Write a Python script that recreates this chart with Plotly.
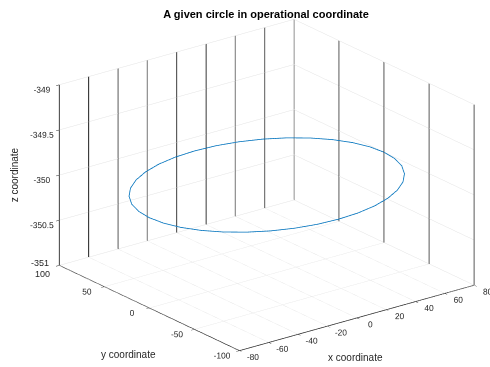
import math
import plotly.graph_objects as go

# ---- data ----
title_text = "A given circle in operational coordinate"
circle_x = [80, 78.8, 75.2, 69.3, 61.3, 51.4, 40, 27.4, 13.9, 0, -13.9, -27.4, -40, -51.4, -61.3,
            -69.3, -75.2, -78.8, -80, -78.8, -75.2, -69.3, -61.3, -51.4, -40, -27.4, -13.9, 0,
            13.9, 27.4, 40, 51.4, 61.3, 69.3, 75.2, 78.8, 80]
circle_y = [0, 13.9, 27.4, 40, 51.4, 61.3, 69.3, 75.2, 78.8, 80, 78.8, 75.2, 69.3, 61.3, 51.4,
            40, 27.4, 13.9, 0, -13.9, -27.4, -40, -51.4, -61.3, -69.3, -75.2, -78.8, -80,
            -78.8, -75.2, -69.3, -61.3, -51.4, -40, -27.4, -13.9, 0]
circle_z_level = -350

x_ticks = [-80, -60, -40, -20, 0, 20, 40, 60, 80]
y_ticks = [-100, -50, 0, 50, 100]
z_ticks = [-351, -350.5, -350, -349.5, -349]
x_labels = ["-80", "-60", "-40", "-20", "0", "20", "40", "60", "80"]
y_labels = ["-100", "-50", "0", "50", "100"]
z_labels = ["-351", "-350.5", "-350", "-349.5", "-349"]

x_range = [-80, 80]
y_range = [-100, 100]
z_range = [-351, -349]

fig = go.Figure()

# dark vertical grid lines on the back walls (as rendered in the reference)
vx, vy, vz = [], [], []
for xv in x_ticks:
    vx += [xv, xv, None]
    vy += [y_range[1], y_range[1], None]
    vz += [z_range[0], z_range[1], None]
for yv in y_ticks:
    vx += [x_range[1], x_range[1], None]
    vy += [yv, yv, None]
    vz += [z_range[0], z_range[1], None]
fig.add_trace(go.Scatter3d(x=vx, y=vy, z=vz, mode="lines",
                           line=dict(color="#000000", width=1.8),
                           hoverinfo="skip", showlegend=False))

fig.add_trace(go.Scatter3d(x=circle_x, y=circle_y,
                           z=[circle_z_level] * len(circle_x), mode="lines",
                           line=dict(color="#0072BD", width=1.6),
                           hoverinfo="skip", showlegend=False))

FONT_FAMILY = "Liberation Sans, Arial, sans-serif"
font = dict(family=FONT_FAMILY, size=10, color="#262626")
small_font = dict(family=FONT_FAMILY, size=9, color="#262626")

# the two labels that meet at the shared corner are drawn as annotations
y_text = [("" if v == y_range[1] else t) for v, t in zip(y_ticks, y_labels)]
z_text = [("" if v == z_range[0] else t) for v, t in zip(z_ticks, z_labels)]


def ax(rng, tv, tt):
    return dict(title=dict(text=""), range=rng, tickvals=tv, ticktext=tt,
                showgrid=True, gridcolor="#e3e3e3", gridwidth=1,
                showline=True, linecolor="#262626", linewidth=1.5,
                ticks="outside", ticklen=4, tickcolor="#262626", tickangle=0,
                tickfont=font, showbackground=False, zeroline=False,
                showspikes=False, autorange=False)


a = math.radians(37.5)
e = math.radians(21.3)
R = 1.8
eye_dir = (-math.sin(a) * math.cos(e), -math.cos(a) * math.cos(e), math.sin(e))
S = 1.626
# shift look-at point so the box sits right of the canvas centre
shift = -0.1195
cen = (shift * math.cos(a), -shift * math.sin(a), 0.0)
eye = dict(x=cen[0] + eye_dir[0] * R, y=cen[1] + eye_dir[1] * R, z=cen[2] + eye_dir[2] * R)

annots = [
    dict(x=0, y=y_range[0], z=z_range[0], text="x coordinate", showarrow=False,
         xshift=-1, yshift=-40, font=font),
    dict(x=x_range[0], y=0, z=z_range[0], text="y coordinate", showarrow=False,
         xshift=-21, yshift=-46, font=font),
    dict(x=x_range[0], y=y_range[1], z=circle_z_level, text="z coordinate", showarrow=False,
         xshift=-45, yshift=0, textangle=-90, font=font),
    dict(x=x_range[0], y=y_range[1], z=z_range[0], text=z_labels[0], showarrow=False,
         xanchor="right", xshift=-8, yshift=2, font=small_font),
    dict(x=x_range[0], y=y_range[1], z=z_range[0], text=y_labels[-1], showarrow=False,
         xshift=-17, yshift=-9, font=small_font),
]

fig.update_layout(
    width=490, height=367,
    margin=dict(l=0, r=0, t=0, b=0),
    paper_bgcolor="white",
    title=dict(text="<b>" + title_text + "</b>", x=0.543, xanchor="center", y=0.962, yanchor="middle",
               font=dict(family=FONT_FAMILY, size=11, color="#000000")),
    scene=dict(
        domain=dict(x=[0.0, 1.0], y=[0.0, 0.992]),
        xaxis=ax(x_range, x_ticks, x_labels),
        yaxis=ax(y_range, y_ticks, y_text),
        zaxis=ax(z_range, z_ticks, z_text),
        aspectmode="manual", aspectratio=dict(x=1 * S, y=1 * S, z=0.655 * S),
        camera=dict(eye=eye, center=dict(x=cen[0], y=cen[1], z=cen[2]), up=dict(x=0, y=0, z=1),
                    projection=dict(type="orthographic")),
        bgcolor="white",
        annotations=annots,
    ),
)

fig.write_html("out.html")
